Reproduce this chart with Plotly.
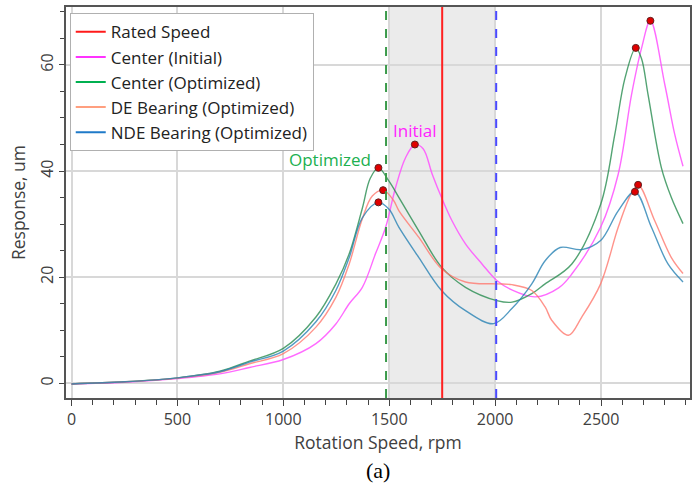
import plotly.graph_objects as go

# ---------------- data ----------------
rpm_center_opt = [0, 250, 500, 700, 840, 1000, 1154, 1248, 1311, 1373, 1410, 1449, 1499, 1546, 1640, 1747, 1860, 2008, 2080, 2173, 2236, 2362, 2498, 2565, 2613, 2664, 2691, 2722, 2785, 2832, 2887]
val_center_opt = [-0.1, 0.3, 1.05, 2.3, 4.2, 6.6, 12.5, 18.7, 24.4, 33.0, 38.6, 40.6, 38.1, 35.0, 28.7, 21.9, 18.1, 15.6, 15.3, 16.9, 18.75, 22.5, 33.7, 46.9, 57.5, 63.2, 61.2, 54.4, 40.6, 35.0, 30.1]

rpm_center_init = [0, 250, 500, 700, 840, 1000, 1154, 1248, 1311, 1373, 1435, 1483, 1530, 1577, 1621, 1660, 1703, 1747, 1797, 1860, 1938, 2008, 2079, 2190, 2300, 2362, 2498, 2581, 2644, 2691, 2733, 2801, 2848, 2887]
val_center_init = [-0.1, 0.2, 0.9, 1.8, 3.0, 4.5, 7.5, 11.2, 15.0, 18.1, 24.4, 29.4, 36.9, 42.5, 45.0, 44.2, 39.4, 35.0, 30.6, 26.3, 22.5, 19.4, 17.6, 16.3, 18.0, 20.6, 29.4, 39.4, 54.4, 63.1, 68.3, 56.3, 46.9, 40.9]

rpm_de = [0, 250, 500, 700, 840, 1000, 1154, 1248, 1311, 1373, 1420, 1471, 1520, 1546, 1640, 1747, 1860, 2008, 2079, 2173, 2236, 2267, 2346, 2409, 2498, 2581, 2640, 2675, 2754, 2832, 2887]
val_de = [-0.1, 0.3, 1.0, 2.1, 3.7, 5.6, 10.6, 16.2, 22.5, 31.0, 35.3, 36.4, 34.5, 32.5, 27.5, 21.6, 19.1, 18.75, 18.6, 17.5, 14.4, 11.9, 9.06, 12.5, 18.75, 29.4, 35.5, 37.4, 30.6, 23.7, 20.7]

rpm_nde = [0, 250, 500, 700, 840, 1000, 1154, 1248, 1311, 1373, 1449, 1499, 1546, 1640, 1747, 1860, 1993, 2079, 2173, 2236, 2307, 2409, 2498, 2581, 2660, 2738, 2816, 2887]
val_nde = [-0.1, 0.3, 1.05, 2.2, 4.0, 6.1, 11.6, 17.5, 23.7, 31.2, 34.1, 32.8, 29.4, 23.7, 17.5, 13.7, 11.25, 14.1, 18.75, 23.1, 25.6, 25.2, 26.9, 32.5, 36.1, 29.4, 22.5, 19.1]

peak_rpm = [1449, 1471, 1449, 1621, 2664, 2675, 2660, 2733]
peak_val = [40.6, 36.4, 34.1, 45.0, 63.2, 37.4, 36.1, 68.3]

rated_speed = 1750
opt_line = 1485
band = [1495, 2000]
band_end_line = 2005

series_names = ["Rated Speed", "Center (Initial)", "Center (Optimized)", "DE Bearing (Optimized)", "NDE Bearing (Optimized)"]
legend_colors = ["#ff1a1a", "#ff33ff", "#00b050", "#ff9f7f", "#1f7ac8"]

x_ticks = [0, 500, 1000, 1500, 2000, 2500]
y_ticks = [0, 20, 40, 60]

# ---------------- figure ----------------
fig = go.Figure()

curves = [
    (rpm_center_init, val_center_init, "rgba(255,80,255,0.85)"),
    (rpm_center_opt, val_center_opt, "rgba(40,140,80,0.8)"),
    (rpm_de, val_de, "rgba(255,120,110,0.8)"),
    (rpm_nde, val_nde, "rgba(40,130,180,0.8)"),
]
for xs, ys, col in curves:
    fig.add_trace(go.Scatter(x=xs, y=ys, mode="lines",
                             line=dict(color=col, width=1.4, shape="spline", smoothing=1.0, simplify=False),
                             showlegend=False, hoverinfo="skip"))

# peak markers
fig.add_trace(go.Scatter(x=peak_rpm, y=peak_val, mode="markers",
                         marker=dict(color="#e00000", size=7, line=dict(color="#602020", width=1)),
                         showlegend=False, hoverinfo="skip"))

# legend entries
for name, col in zip(series_names, legend_colors):
    fig.add_trace(go.Scatter(x=[None], y=[None], mode="lines", name=name, line=dict(color=col, width=2)))

# shaded band and vertical lines
fig.add_shape(type="rect", xref="x", yref="paper", x0=band[0], x1=band[1], y0=0, y1=1,
              fillcolor="#ebebeb", line=dict(width=0), layer="below")
fig.add_shape(type="line", xref="x", yref="paper", x0=opt_line, x1=opt_line, y0=0, y1=1,
              line=dict(color="#3a9a4a", width=2, dash="dash"))
fig.add_shape(type="line", xref="x", yref="paper", x0=rated_speed, x1=rated_speed, y0=0, y1=1,
              line=dict(color="#ff2020", width=2))
fig.add_shape(type="line", xref="x", yref="paper", x0=band_end_line, x1=band_end_line, y0=0, y1=1,
              line=dict(color="#4a4aff", width=2, dash="dash"))

# annotations
fig.add_annotation(x=1621, y=45.0, text="Initial", showarrow=False, yshift=14,
                   font=dict(color="#ff22ff", size=17, family="Open Sans"))
fig.add_annotation(x=1449, y=40.6, text="Optimized", showarrow=False, xshift=-48, yshift=8,
                   font=dict(color="#20b050", size=17, family="Open Sans"))
fig.add_annotation(x=0.5, y=-0.186, xref="paper", yref="paper", text="(a)", showarrow=False,
                   xanchor="center", yanchor="middle",
                   font=dict(color="#000000", size=22, family="Liberation Serif"))

fig.update_layout(
    width=697, height=489,
    margin=dict(l=66, r=5, t=5, b=91),
    paper_bgcolor="white", plot_bgcolor="white",
    font=dict(family="Open Sans", size=15, color="#404040"),
    legend=dict(x=0.006, y=0.984, xanchor="left", yanchor="top",
                bgcolor="white", bordercolor="#b0b0b0", borderwidth=1,
                font=dict(size=17, color="#222222"), tracegroupgap=0, itemwidth=30),
)
fig.update_xaxes(range=[-26, 2920], tickvals=x_ticks, showgrid=True, gridcolor="#d8d8d8", gridwidth=1.5,
                 showline=True, linecolor="#555555", linewidth=1.5, mirror=True,
                 ticks="outside", ticklen=6, tickcolor="#444444",
                 minor=dict(dtick=100, ticks="outside", ticklen=5, tickcolor="#444444", showgrid=False),
                 zeroline=False, title=dict(text="Rotation Speed, rpm", font=dict(size=17.5), standoff=8),
                 tickfont=dict(size=16))
fig.update_yaxes(range=[-2.75, 70.9], tickvals=y_ticks, showgrid=True, gridcolor="#d8d8d8", gridwidth=1.5,
                 showline=True, linecolor="#555555", linewidth=1.5, mirror=True,
                 ticks="outside", ticklen=5, tickcolor="#444444", tickangle=-90,
                 minor=dict(dtick=5, ticks="outside", ticklen=4, tickcolor="#444444", showgrid=False),
                 zeroline=False, title=dict(text="Response, um", font=dict(size=17.5), standoff=6),
                 tickfont=dict(size=16))

fig.write_html("out.html")
